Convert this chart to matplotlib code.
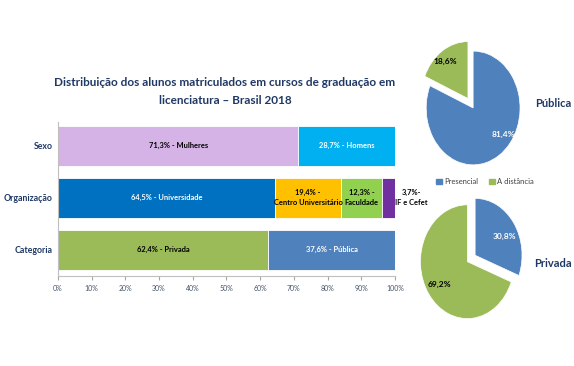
import matplotlib.pyplot as plt
from matplotlib.patches import Patch
from matplotlib.ticker import PercentFormatter

plt.rcParams['font.family'] = ['Lato', 'DejaVu Sans']

# bar chart data
rows = ['Categoria', 'Organização', 'Sexo']
sexo = [71.3, 28.7]
sexo_lbl = ['71,3% - Mulheres', '28,7% - Homens']
org = [64.5, 19.4, 12.3, 3.7]
org_lbl = ['64,5% - Universidade', '19,4% -\nCentro Universitário', '12,3% -\nFaculdade', '3,7%-\nIF e Cefet']
cat = [62.4, 37.6]
cat_lbl = ['62,4% - Privada', '37,6% - Pública']

# pie data
pie_labels = ['Presencial', 'A distância']
publica = [81.4, 18.6]
privada = [30.8, 69.2]

navy = '#1F3864'
blue_p = '#4F81BD'
green_p = '#9BBB59'

fig = plt.figure(figsize=(5.74, 3.66), dpi=100)

ax = fig.add_axes([0.101, 0.246, 0.587, 0.421])
h = 0.77
series = [
    (2, sexo, sexo_lbl, ['#D5B3E6', '#00B0F0'], ['black', 'white']),
    (1, org, org_lbl, ['#0070C0', '#FFC000', '#92D050', '#7030A0'], ['white', 'black', 'black', 'black']),
    (0, cat, cat_lbl, [green_p, blue_p], ['black', 'white']),
]
for y, vals, lbls, cols, tcols in series:
    left = 0
    for v, l, c, tc in zip(vals, lbls, cols, tcols):
        ax.barh(y, v, left=left, height=h, color=c, edgecolor='white', linewidth=0.6)
        if v > 5:
            ax.text(left + v / 2, y, l, ha='center', va='center', color=tc,
                    fontsize=5.4, fontweight='bold', linespacing=1.5)
        else:
            ax.text(105, y, l, ha='center', va='center', color='black',
                    fontsize=5.4, fontweight='bold', linespacing=1.5)
        left += v

ax.set_xlim(0, 100)
ax.set_ylim(-0.5, 2.46)
ax.set_yticks([0, 1, 2])
ax.set_yticklabels(rows, fontsize=6.3, fontweight='bold', color=navy)
ax.set_xticks(range(0, 101, 10))
ax.xaxis.set_major_formatter(PercentFormatter(decimals=0))
ax.tick_params(axis='x', labelsize=5, colors='#A6A6A6', labelcolor='#44546A', length=3)
ax.tick_params(axis='y', length=0, pad=4)
for s in ['top', 'right']:
    ax.spines[s].set_visible(False)
for s in ['left', 'bottom']:
    ax.spines[s].set_color('#BFBFBF')
    ax.spines[s].set_linewidth(0.8)

fig.text(0.392, 0.751, 'Distribuição dos alunos matriculados em cursos de graduação em\nlicenciatura – Brasil 2018',
         ha='center', va='center', fontsize=8.5, fontweight='bold', color=navy, linespacing=1.75)

# pies
def draw_pie(rect, vals, explode, title, tx, ty, pct_pos):
    pa = fig.add_axes(rect)
    wedges, texts, autotexts = pa.pie(vals, colors=[blue_p, green_p], startangle=90,
                                      counterclock=False, explode=explode,
                                      autopct=lambda p: ('%.1f%%' % p).replace('.', ','),
                                      wedgeprops=dict(edgecolor='white', linewidth=0.5),
                                      textprops=dict(fontsize=6, fontweight='bold'))
    autotexts[0].set_color('white')
    autotexts[1].set_color('black')
    for t, p in zip(autotexts, pct_pos):
        t.set_position(p)
    pa.set_aspect('auto')
    pa.set_xlim(-1.3, 1.3)
    pa.set_ylim(-1.3, 1.3)
    fig.text(tx, ty, title, ha='left', va='center', fontsize=8, fontweight='bold', color=navy)

draw_pie([0.718, 0.503, 0.2125, 0.404], publica, [0, 0.2], 'Pública', 0.932, 0.716,
         [(0.64, -0.47), (-0.6, 0.81)])
draw_pie([0.708, 0.083, 0.2125, 0.404], privada, [0.2, 0], 'Privada', 0.930, 0.281,
         [(0.8, 0.45), (-0.6, -0.4)])

handles = [Patch(color=blue_p, label=pie_labels[0]), Patch(color=green_p, label=pie_labels[1])]
fig.legend(handles=handles, loc='center', bbox_to_anchor=(0.845, 0.503), ncol=2, frameon=False,
           fontsize=5.5, handlelength=0.7, handleheight=0.7, handletextpad=0.3, columnspacing=1.5,
           labelcolor='#404040')

fig.savefig('out.png', dpi=100)
